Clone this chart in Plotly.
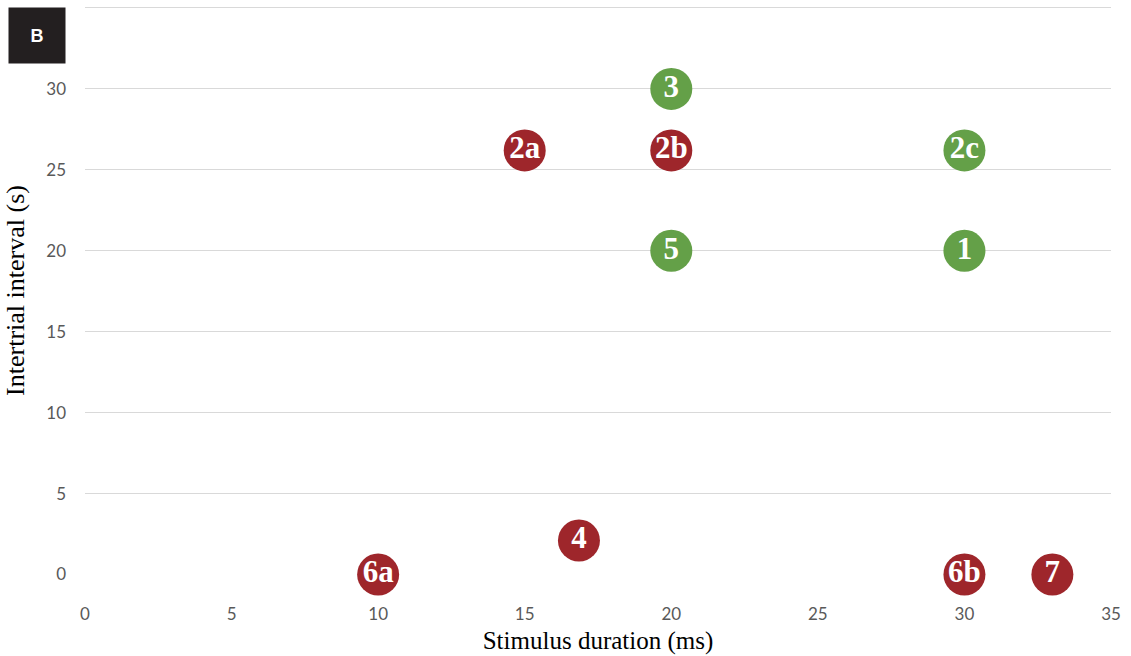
import plotly.graph_objects as go

# Data
green_labels = ["3", "2c", "5", "1"]
green_x = [20, 30, 20, 30]
green_y = [30, 26.2, 20, 20]

red_labels = ["2a", "2b", "4", "6a", "6b", "7"]
red_x = [15, 20, 16.85, 10, 30, 33]
red_y = [26.2, 26.2, 2.1, 0, 0, 0]

x_ticks = [0, 5, 10, 15, 20, 25, 30, 35]
y_ticks = [0, 5, 10, 15, 20, 25, 30, 35]
y_ticktext = ["0", "5", "10", "15", "20", "25", "30", ""]

GREEN = "#64a048"
RED = "#9e262b"

fig = go.Figure()
for xs, ys, labels, color in [(green_x, green_y, green_labels, GREEN),
                               (red_x, red_y, red_labels, RED)]:
    fig.add_trace(go.Scatter(
        x=xs, y=ys, text=labels, mode="markers+text",
        textposition="middle center",
        marker=dict(size=42, color=color, line=dict(width=0)),
        textfont=dict(family="Liberation Serif", size=31, color="white", weight="bold"),
        cliponaxis=False, showlegend=False, hoverinfo="skip",
    ))

fig.update_layout(
    width=1131, height=656,
    margin=dict(l=85, r=20, t=6, b=81),
    paper_bgcolor="white", plot_bgcolor="white",
    xaxis=dict(range=[0, 35], tickvals=x_ticks, showgrid=False, zeroline=False,
               showline=False, ticks="", automargin=False, ticklabelstandoff=27,
               tickfont=dict(family="Lato", size=17, color="#595959"),
               title=dict(text="Stimulus duration (ms)",
                          font=dict(family="Liberation Serif", size=25, color="black"),
                          standoff=8)),
    yaxis=dict(range=[-0.03, 35.12], tickvals=y_ticks, ticktext=y_ticktext, showgrid=True,
               gridcolor="#d9d9d9", gridwidth=1.3, zeroline=False, showline=False, ticks="",
               ticklabelstandoff=18, automargin=False,
               tickfont=dict(family="Lato", size=17, color="#595959"),
               title=dict(text="Intertrial interval (s)",
                          font=dict(family="Liberation Serif", size=26, color="black"),
                          standoff=14)),
    annotations=[dict(text="<b>B</b>", xref="paper", yref="paper",
                      x=(8 - 85) / 1026, y=0.998, xanchor="left", yanchor="top",
                      showarrow=False, bgcolor="#231f20", width=54, height=53,
                      font=dict(family="Liberation Sans", size=18, color="white"))],
)

fig.write_html("out.html", config={"displayModeBar": False},
               post_script="document.body.style.margin='0';document.body.style.overflow='hidden';")
